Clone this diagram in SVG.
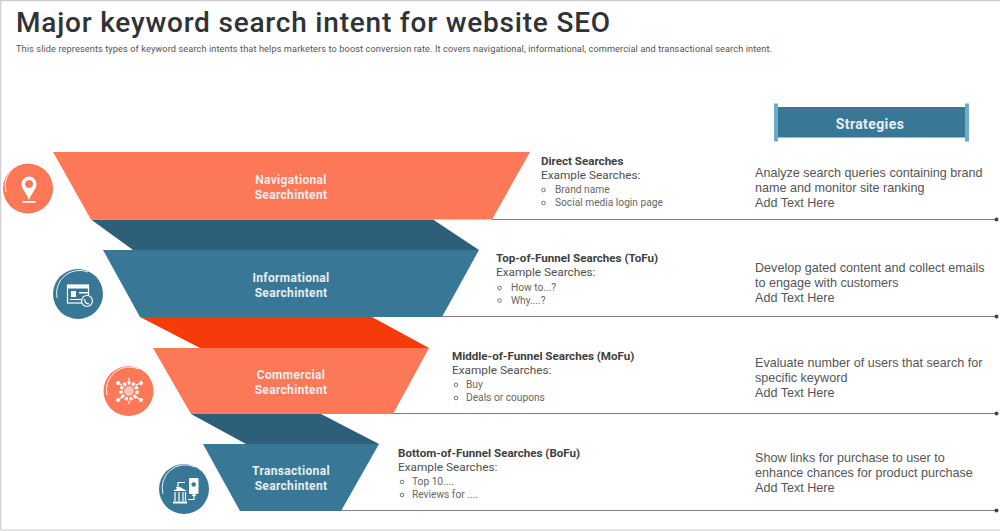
<svg xmlns="http://www.w3.org/2000/svg" width="1000" height="531" viewBox="0 0 1000 531">
<style>
text{font-family:"Roboto","Liberation Sans",sans-serif}
.o{fill:#fd7857}.b{fill:#397796}.d{fill:#2d5f78}.r{fill:#f63b0b}
.fl{font-size:12px;font-weight:700;fill:#e9eef0;text-anchor:middle;letter-spacing:.33px}
.h{font-size:11.600px;font-weight:700;fill:#404040}
.e{font-size:11.800px;fill:#505050}
.li{font-size:10.200px;fill:#666}
.s{font-family:"Liberation Sans",sans-serif;font-size:12.600px;fill:#555}
.line{stroke:#7f7f7f;stroke-width:1.200;fill:none}
.bul{fill:none;stroke:#666;stroke-width:.9}
.ic{fill:#fff}.icl{fill:none;stroke:#fff;stroke-width:1.200}
.ring{fill:none;stroke:#fff;stroke-width:.9}
</style>
<defs><circle id="dot" r="2" fill="#444"/></defs>
<rect width="1000" height="531" fill="#fff"/>
<path d="M.5 531V.5H1000" fill="none" stroke="#cfcfcf" stroke-width="1.500"/>
<rect y="529" width="1000" height="2" fill="#e4e4e4"/>
<g id="title">
<text x="16" y="32" style="font-size:28px;font-weight:500;letter-spacing:.8px" fill="#2f3236">Major keyword search intent for website SEO</text>
<text x="16" y="52" style="font-size:9.200px" fill="#555" textLength="756" lengthAdjust="spacing">This slide represents types of keyword search intents that helps marketers to boost conversion rate. It covers navigational, informational, commercial and transactional search intent.</text>
</g>
<g id="connectors">
<path class="line" d="M492 219.500H996"/><use href="#dot" x="996.500" y="219.500"/>
<path class="line" d="M442 316.500H996"/><use href="#dot" x="996.500" y="316.500"/>
<path class="line" d="M393 413.500H996"/><use href="#dot" x="996.500" y="413.500"/>
<path class="line" d="M341 510.500H996"/><use href="#dot" x="996.500" y="510.500"/>
</g>
<g id="bands">
<path class="d" d="M91 219.500H433L479 250H133Z"/>
<path class="r" d="M140 317H372L429 348H200Z"/>
<path class="d" d="M191 414H321L379 444H246Z"/>
</g>
<g id="strategies-header">
<rect x="776" y="107" width="191" height="30.500" class="b"/>
<rect x="774" y="103.500" width="4" height="38" fill="#6fabc8"/>
<rect x="965" y="103.500" width="4" height="38" fill="#6fabc8"/>
<text x="870" y="129" text-anchor="middle" style="font-size:14px;font-weight:700;letter-spacing:.4px" fill="#e9eef0">Strategies</text>
</g>
<g id="node-navigational">
<path class="o" d="M53 152H530L492 219.500H91Z"/>
<text class="fl" x="291" y="184">Navigational</text><text class="fl" x="291" y="199">Searchintent</text>
<circle cx="28" cy="188.500" r="25" fill="#fd7857"/>
<path class="ring" d="M6 192A23 23 0 0 1 38 165"/>
<path class="ic" fill-rule="evenodd" d="M29 176.500a7.500 7.500 0 0 1 7.500 7.500c0 5-5 9-7.500 16c-2.500-7-7.500-11-7.500-16a7.500 7.500 0 0 1 7.500-7.500ZM29 180a4 4 0 1 0 .01 0Z"/>
<rect class="ic" x="22.500" y="201" width="13" height="1.800"/>
</g>
<g id="text-navigational">
<text class="h" x="541" y="165">Direct Searches</text>
<text class="e" x="541" y="178.500">Example Searches:</text>
<circle class="bul" cx="543.500" cy="190" r="1.800"/><text class="li" x="555" y="193">Brand name</text>
<circle class="bul" cx="543.500" cy="203" r="1.800"/><text class="li" x="555" y="206">Social media login page</text>
<text class="s"><tspan x="755" y="176.500">Analyze  search queries containing brand</tspan><tspan x="755" y="191.500">name and monitor  site ranking</tspan><tspan x="755" y="206.500">Add Text  Here</tspan></text>
</g>
<g id="node-informational">
<path class="b" d="M103 250H479L442 317H140Z"/>
<text class="fl" x="291" y="282">Informational</text><text class="fl" x="291" y="297">Searchintent</text>
<circle cx="78" cy="294" r="25" fill="#397796"/>
<path class="ring" d="M57 298A23 23 0 0 1 88 272"/>
<g>
<rect class="icl" x="67.500" y="285" width="21" height="18"/>
<path class="ic" d="M67 285h22v3.500H67Z"/>
<rect class="ic" x="71" y="291" width="5" height="6"/><rect class="ic" x="79" y="292" width="9" height="1.500"/>
<rect class="ic" x="70" y="299" width="12" height="1"/>
<circle cx="87" cy="301" r="5.500" fill="#397796" stroke="#fff" stroke-width="1.200"/>
<path class="icl" stroke-width="2" d="M84.500 299c0 3 2 5 5 5"/>
</g>
</g>
<g id="text-informational">
<text class="h" x="496" y="262">Top-of-Funnel Searches (ToFu)</text>
<text class="e" x="496" y="276">Example Searches:</text>
<circle class="bul" cx="499.500" cy="288" r="1.800"/><text class="li" x="511" y="291">How to...?</text>
<circle class="bul" cx="499.500" cy="300.500" r="1.800"/><text class="li" x="511" y="304">Why....?</text>
<text class="s"><tspan x="755" y="271.500">Develop gated content  and collect emails</tspan><tspan x="755" y="286.500">to engage with customers</tspan><tspan x="755" y="301.500">Add Text  Here</tspan></text>
</g>
<g id="node-commercial">
<path class="o" d="M153 348H429L393 414H191Z"/>
<text class="fl" x="291" y="379">Commercial</text><text class="fl" x="291" y="394">Searchintent</text>
<circle cx="128.500" cy="391" r="25" fill="#fd7857"/>
<path class="ring" d="M107 395A23 23 0 0 1 139 369"/>
<g>
<circle cx="129" cy="391" r="8" fill="none" stroke="#fff" stroke-width="3.500" stroke-dasharray="3 1.500"/>
<circle cx="129" cy="391" r="5" fill="#f9c3b4"/>
<path class="icl" d="M122 385L118 383M136 385L141 383M122 397L118 400M136 397L141 400M129 381V378M129 401V404"/>
<circle class="ic" cx="118" cy="383" r="2"/><circle class="ic" cx="141" cy="383" r="2"/><circle class="ic" cx="118" cy="400" r="2"/><circle class="ic" cx="141" cy="400" r="2"/>
</g>
</g>
<g id="text-commercial">
<text class="h" x="452" y="360">Middle-of-Funnel Searches (MoFu)</text>
<text class="e" x="452" y="373.500">Example Searches:</text>
<circle class="bul" cx="456" cy="385" r="1.800"/><text class="li" x="466" y="388">Buy</text>
<circle class="bul" cx="456" cy="398" r="1.800"/><text class="li" x="466" y="401">Deals or coupons</text>
<text class="s"><tspan x="755" y="367">Evaluate  number  of users that search for</tspan><tspan x="755" y="382">specific keyword</tspan><tspan x="755" y="397">Add Text  Here</tspan></text>
</g>
<g id="node-transactional">
<path class="b" d="M203 444H379L341 511H240Z"/>
<text class="fl" x="291" y="475">Transactional</text><text class="fl" x="291" y="490">Searchintent</text>
<circle cx="184" cy="489" r="25" fill="#397796"/>
<path class="ring" d="M163 494A23 23 0 0 1 195 467"/>
<g>
<rect class="ic" x="189" y="478" width="9.500" height="16" rx="1"/>
<circle cx="193.700" cy="484.500" r="2.300" fill="#397796"/>
<path class="ic" d="M173 491L180 487L187 491Z"/>
<rect class="ic" x="173" y="501.500" width="14" height="2"/>
<path class="icl" d="M175 492V501M179 492V501M183 492V501M185.500 492V501M185 482.500H178V488M188 499.500H194V495"/>
<path class="ic" d="M175.500 487h5l-2.500 3ZM191.500 496h5l-2.500-3Z"/>
</g>
</g>
<g id="text-transactional">
<text class="h" x="398" y="457">Bottom-of-Funnel Searches (BoFu)</text>
<text class="e" x="398" y="470.500">Example Searches:</text>
<circle class="bul" cx="402" cy="482" r="1.800"/><text class="li" x="412" y="485">Top 10....</text>
<circle class="bul" cx="402" cy="495" r="1.800"/><text class="li" x="412" y="498">Reviews  for  ....</text>
<text class="s"><tspan x="755" y="461.500">Show links for purchase to user to</tspan><tspan x="755" y="476.500">enhance chances for product purchase</tspan><tspan x="755" y="491.500">Add Text  Here</tspan></text>
</g>
</svg>
